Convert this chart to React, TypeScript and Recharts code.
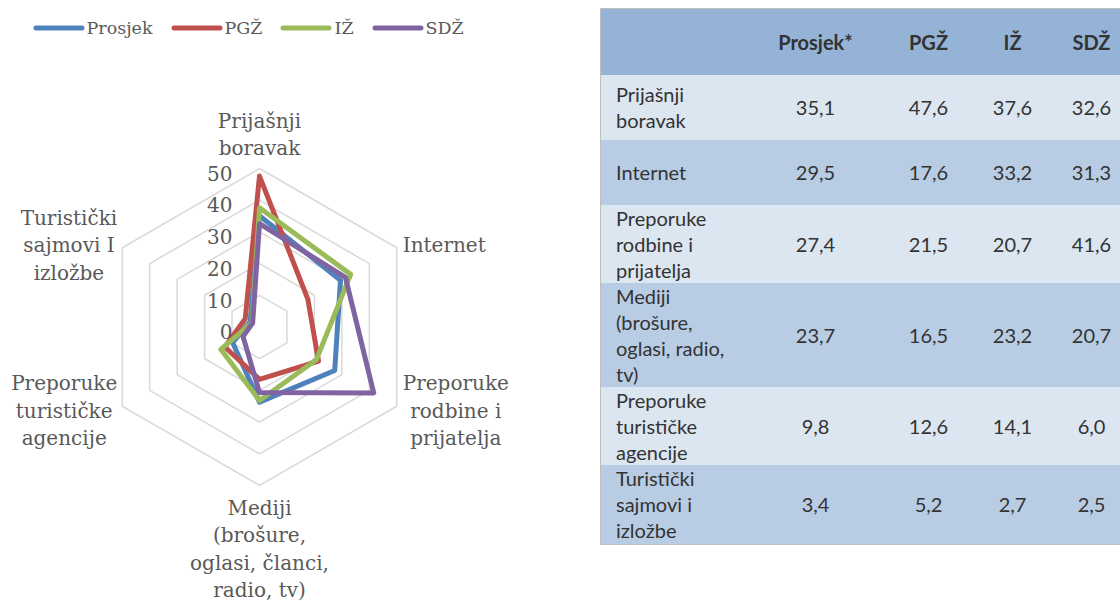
import React from 'react';
import { RadarChart, Radar, PolarGrid, PolarAngleAxis, PolarRadiusAxis } from 'recharts';

// ---------- data ----------
const categories = [
  'Prijašnji\nboravak',
  'Internet',
  'Preporuke\nrodbine i\nprijatelja',
  'Mediji\n(brošure,\noglasi, članci,\nradio, tv)',
  'Preporuke\nturističke\nagencije',
  'Turistički\nsajmovi I\nizložbe',
];
const tableLabels = [
  'Prijašnji boravak',
  'Internet',
  'Preporuke rodbine i prijatelja',
  'Mediji (brošure, oglasi, radio, tv)',
  'Preporuke turističke agencije',
  'Turistički sajmovi i izložbe',
];
const seriesNames = ['Prosjek', 'PGŽ', 'IŽ', 'SDŽ'];
const tableHeaders = ['Prosjek*', 'PGŽ', 'IŽ', 'SDŽ'];
const prosjek = [35.1, 29.5, 27.4, 23.7, 9.8, 3.4];
const pgz = [47.6, 17.6, 21.5, 16.5, 12.6, 5.2];
const iz = [37.6, 33.2, 20.7, 23.2, 14.1, 2.7];
const sdz = [32.6, 31.3, 41.6, 20.7, 6.0, 2.5];
const radiusTicks = [0, 10, 20, 30, 40, 50];

const seriesValues = [prosjek, pgz, iz, sdz];
const seriesColors = ['#4F81BD', '#C0504D', '#9BBB59', '#8064A2'];

const data = categories.map((name, i) => {
  const row: any = { name };
  seriesNames.forEach((s, k) => {
    row[s] = seriesValues[k][i];
  });
  return row;
});

// ---------- layout ----------
const CX = 259.5;
const CY = 327;
const R = 158.5;
const SERIF = "'DejaVu Serif', serif";
const LABEL_FS = 20;
const LH = 27.5;
const TEXT_GRAY = '#595959';

let ctx: CanvasRenderingContext2D | null = null;
function measure(text: string, font: string): number {
  if (!ctx) {
    const c = document.createElement('canvas');
    ctx = c.getContext('2d');
  }
  if (!ctx) return text.length * 10;
  ctx.font = font;
  return ctx.measureText(text).width;
}

const AngleTick = (props: any) => {
  const { payload } = props;
  const angle = Number(payload.coordinate);
  const rad = (angle * Math.PI) / 180;
  const cos = Math.cos(rad);
  const sin = Math.sin(rad);
  const vx = CX + R * cos;
  const vy = CY - R * sin;
  const lines = String(payload.value).split('\n');
  const n = lines.length;
  const font = `${LABEL_FS}px 'DejaVu Serif'`;
  const w = Math.max(...lines.map((l) => measure(l, font)));
  let xc = vx;
  let centers: number[];
  if (Math.abs(cos) < 0.1) {
    if (sin > 0) centers = lines.map((_, i) => vy - 20.5 - (n - 1 - i) * LH);
    else centers = lines.map((_, i) => vy + 22 + i * LH);
  } else {
    xc = cos > 0 ? vx + 6 + w / 2 : vx - 5 - w / 2;
    const mid = vy + (sin > 0 ? -2.7 : 4.3);
    centers = lines.map((_, i) => mid + (i - (n - 1) / 2) * LH);
  }
  return (
    <text textAnchor="middle" fill={TEXT_GRAY} fontFamily={SERIF} fontSize={LABEL_FS}>
      {lines.map((l, i) => (
        <tspan key={i} x={xc} y={centers[i] + 0.36 * LABEL_FS}>
          {l}
        </tspan>
      ))}
    </text>
  );
};

const RadiusTick = (props: any) => {
  const { x, y, payload } = props;
  return (
    <text
      x={x - 27}
      y={y + 5 + 0.36 * LABEL_FS}
      textAnchor="end"
      fill={TEXT_GRAY}
      fontFamily={SERIF}
      fontSize={LABEL_FS}
    >
      {payload.value}
    </text>
  );
};

const fmt = (v: number) => v.toFixed(1).replace('.', ',');

export default function App() {
  const rowHeights = [65, 65, 78, 104, 78, 80];
  const colWidths = [160, 110, 116, 52, 106];
  const rowBg = ['#DCE6F1', '#B8CCE4'];
  return (
    <div
      style={{
        position: 'absolute',
        left: 0,
        top: 0,
        width: 1120,
        height: 601,
        overflow: 'hidden',
        background: '#fff',
      }}
    >
      {/* legend */}
      <div
        style={{
          position: 'absolute',
          left: 32.5,
          top: 16,
          height: 24,
          display: 'flex',
          alignItems: 'center',
          fontFamily: SERIF,
          fontSize: 17.5,
          color: TEXT_GRAY,
          whiteSpace: 'nowrap',
        }}
      >
        {seriesNames.map((s, k) => (
          <div key={s} style={{ display: 'flex', alignItems: 'center', marginRight: 18 }}>
            <svg width={52} height={8} style={{ display: 'block' }}>
              <line x1={3} y1={4} x2={49} y2={4} stroke={seriesColors[k]} strokeWidth={5} strokeLinecap="round" />
            </svg>
            <span style={{ marginLeft: 2, lineHeight: '24px' }}>{s}</span>
          </div>
        ))}
      </div>

      <div style={{ position: 'absolute', left: 0, top: 0 }}>
        <RadarChart
          width={560}
          height={601}
          data={data}
          cx={CX}
          cy={CY}
          outerRadius={R}
          margin={{ top: 0, right: 0, bottom: 0, left: 0 }}
        >
          <PolarGrid gridType="polygon" radialLines={false} stroke="#D9D9D9" strokeWidth={1.5} />
          <PolarAngleAxis dataKey="name" tick={AngleTick} axisLine={false} tickLine={false} />
          <PolarRadiusAxis
            angle={90}
            domain={[0, 50]}
            ticks={radiusTicks as any}
            tickCount={6}
            axisLine={false}
            tick={RadiusTick}
          />
          {seriesNames.map((s, k) => (
            <Radar
              key={s}
              name={s}
              dataKey={s}
              stroke={seriesColors[k]}
              strokeWidth={5}
              strokeLinejoin="round"
              fill="none"
              fillOpacity={0}
              dot={false}
              isAnimationActive={false}
            />
          ))}
        </RadarChart>
      </div>

      {/* table */}
      <table
        style={{
          position: 'absolute',
          left: 600,
          top: 8,
          width: colWidths.reduce((a, b) => a + b, 0),
          borderCollapse: 'collapse',
          tableLayout: 'fixed',
          fontFamily: "Lato, 'Noto Sans', sans-serif",
          fontSize: 20,
          color: '#333',
          borderLeft: '1px solid #BFBFBF',
          borderTop: '1px solid #BFBFBF',
          borderBottom: '1px solid #BFBFBF',
        }}
      >
        <colgroup>
          {colWidths.map((w, i) => (
            <col key={i} style={{ width: w }} />
          ))}
        </colgroup>
        <thead>
          <tr style={{ height: 66, background: '#95B3D7' }}>
            <th style={{ padding: 0 }} />
            {tableHeaders.map((h) => (
              <th key={h} style={{ padding: 0, textAlign: 'center', fontWeight: 700, verticalAlign: 'middle' }}>
                {h}
              </th>
            ))}
          </tr>
        </thead>
        <tbody>
          {tableLabels.map((label, i) => (
            <tr key={label} style={{ height: rowHeights[i], background: rowBg[i % 2] }}>
              <td
                style={{
                  padding: '0 24px 0 15px',
                  lineHeight: '26px',
                  verticalAlign: 'middle',
                  textAlign: 'left',
                }}
              >
                {label}
              </td>
              {seriesValues.map((vals, k) => (
                <td key={k} style={{ padding: 0, textAlign: 'center', verticalAlign: 'middle', lineHeight: '26px' }}>
                  {fmt(vals[i])}
                </td>
              ))}
            </tr>
          ))}
        </tbody>
      </table>
    </div>
  );
}
